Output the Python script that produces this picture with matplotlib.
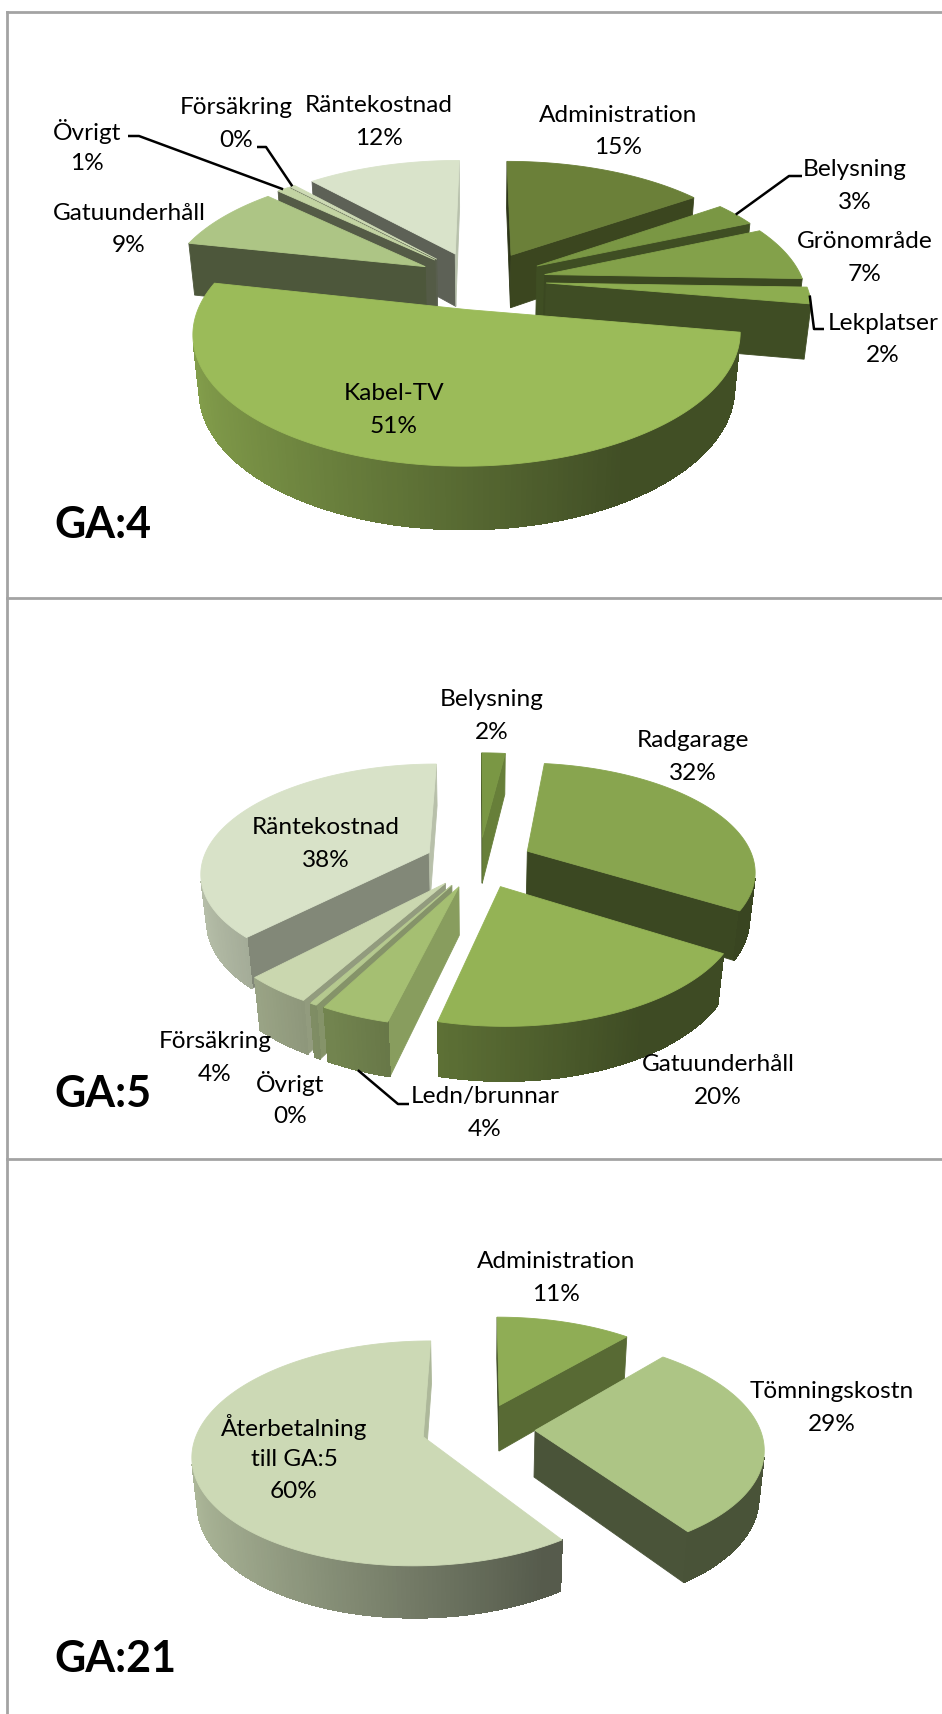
import numpy as np
import matplotlib
matplotlib.use('Agg')
import matplotlib.pyplot as plt
from matplotlib.colors import to_rgb
from matplotlib.patches import Polygon

# GA:4
GA4_NAMES = ['Administration', 'Belysning', 'Grönområde', 'Lekplatser', 'Kabel-TV',
             'Gatuunderhåll', 'Övrigt', 'Försäkring', 'Räntekostnad']
GA4_VALUES = [15.3, 3.2, 7.2, 2.2, 51, 8.8, 0.9, 0.4, 11.6]
GA4_COLORS = ['#6B8039', '#7A9744', '#83A14A', '#8DAD50', '#9BBB59',
              '#ADC585', '#C3D4A3', '#CEDBB5', '#D9E3CA']

# GA:5
GA5_NAMES = ['Belysning', 'Radgarage', 'Gatuunderhåll', 'Ledn/brunnar', 'Övrigt',
             'Försäkring', 'Räntekostnad']
GA5_VALUES = [2, 32, 20, 4, 0.4, 4, 38]
GA5_COLORS = ['#7A9744', '#88A54F', '#94B355', '#A5BF72', '#B5C98F', '#CAD7AF', '#D8E2C8']

# GA:21
GA21_NAMES = ['Administration', 'Tömningskostn', 'Återbetalning\ntill GA:5']
GA21_VALUES = [11.4, 29, 59.6]
GA21_COLORS = ['#8FAD55', '#ADC585', '#CCD9B5']

# label centres in pixels: (x, y of first line)
GA4_LABELS = [(618, 115), (855, 170), (865, 242), (883, 323), (394, 394),
              (129, 213), (87, 131), (236, 108), (379, 106)]
GA5_LABELS = [(492, 700), (693, 741), (718, 1065), (485, 1097), (290, 1084),
              (215, 1042), (326, 828)]
GA21_LABELS = [(556, 1262), (832, 1392), (294, 1427)]

# sideways correction of single slices, in pie radii
GA4_NUDGE = [0, 0, 0, 0, -0.012, -0.012, -0.02, -0.02, -0.025]
GA5_NUDGE = [0, 0, 0, 0, 0, 0, 0]
GA21_NUDGE = [0, 0, -0.025]

# leader lines: slice index -> label side points, depth of the end point on the rim
GA4_LEADERS = {1: ([(802, 177), (789, 177)], 0), 3: ([(824, 330), (814, 330)], 0),
               6: ([(128, 137), (139, 137)], 0), 7: ([(257, 148), (266, 148)], 0)}
GA5_LEADERS = {3: ([(409, 1105), (398, 1105)], 1)}

LINE_GAP = 32.5
FONT = 'Lato'
BORDER = '#A3A3A3'
FACE_NX = [-1, 0, 0.59, 0.77, 1]
FACE_SHADE = [0.42, 0.45, 0.55, 0.62, 0.85]


def project(x, y, z, g):
    se, ce = np.sin(np.radians(g['elev'])), np.cos(np.radians(g['elev']))
    yc = y * se + z * ce
    dc = g['dist'] + y * ce - z * se
    f = g['scale'] * g['dist']
    return g['cx'] + f * x / dc, g['cy'] - f * yc / dc


def shade(color, k):
    return tuple(c * k for c in to_rgb(color))


def area(pts):
    pts = np.array(pts)
    x, y = pts[:, 0], pts[:, 1]
    return 0.5 * np.sum(x * np.roll(y, -1) - y * np.roll(x, -1))


def draw_face(ax, pts, color, zorder, smooth=True):
    ax.add_patch(Polygon(pts, closed=True, fc=color, ec=color, lw=0.6,
                         antialiased=smooth, zorder=zorder))


def draw_pie(ax, values, colors, nudge, g):
    values = np.array(values, dtype=float)
    edges = np.concatenate([[0], np.cumsum(values)]) / values.sum() * 2 * np.pi
    mids = (edges[:-1] + edges[1:]) / 2
    offx = g['explode'] * np.sin(mids) + np.array(nudge)
    offy = g['explode'] * np.cos(mids)
    order = np.argsort(-offy)
    h = g['height']
    for rank, i in enumerate(order):
        z0 = 10 + rank * 0.1
        t = np.linspace(edges[i], edges[i + 1], max(int((edges[i + 1] - edges[i]) * 60), 3))
        rx, ry = np.sin(t) + offx[i], np.cos(t) + offy[i]
        apex = (offx[i], offy[i])

        # the two cut faces
        for ang, end, sign in ((edges[i], (rx[0], ry[0]), -1), (edges[i + 1], (rx[-1], ry[-1]), 1)):
            quad = [project(*apex, 0, g), project(*end, 0, g),
                    project(*end, -h, g), project(*apex, -h, g)]
            if sign * area(quad) > 0:
                nx = np.sin(ang + sign * np.pi / 2)
                draw_face(ax, quad, shade(colors[i], np.interp(nx, FACE_NX, FACE_SHADE)), z0)

        # outer wall, shaded from left to right
        for j in range(len(t) - 1):
            quad = [project(rx[j], ry[j], 0, g), project(rx[j + 1], ry[j + 1], 0, g),
                    project(rx[j + 1], ry[j + 1], -h, g), project(rx[j], ry[j], -h, g)]
            if area(quad) < 0:
                xu = np.sin(t[j])
                k = 0.85 - 0.43 * np.clip((xu + 1) / 1.5, 0, 1)
                draw_face(ax, quad, shade(colors[i], k), z0 + 0.01, smooth=False)

        top = [project(*apex, 0, g)] + [project(a, b, 0, g) for a, b in zip(rx, ry)]
        draw_face(ax, top, colors[i], z0 + 0.02)
    return mids, offx, offy


def draw_labels(ax, names, values, places):
    for name, v, (x, y) in zip(names, values, places):
        lines = name.split('\n') + [f'{v:.0f}%']
        for n, line in enumerate(lines):
            ax.text(x, y + n * LINE_GAP, line, ha='center', va='center', family=FONT,
                    fontsize=17.6, color='black', zorder=30)


def draw_leaders(ax, leaders, pie, g):
    mids, offx, offy = pie
    for i, (pts, low) in leaders.items():
        end = project(np.sin(mids[i]) + offx[i], np.cos(mids[i]) + offy[i], -low * g['height'], g)
        xs, ys = zip(*(pts + [end]))
        ax.plot(xs, ys, color='black', lw=1.8, zorder=25, solid_capstyle='butt')


fig = plt.figure(figsize=(9.42, 17.15), dpi=100)
ax = fig.add_axes([0, 0, 1, 1])
ax.set_xlim(0, 942)
ax.set_ylim(1715, 0)
ax.axis('off')

ax.plot([7, 7], [13, 1715], color=BORDER, lw=2, zorder=1)
for y in (13, 599, 1160):
    ax.plot([7, 942], [y, y], color=BORDER, lw=2, zorder=1)

G4 = dict(cx=483, cy=281, scale=258, elev=27.2, dist=5.15, height=0.24, explode=0.245)
G5 = dict(cx=479, cy=863, scale=227, elev=28.0, dist=5.2, height=0.24, explode=0.24)
G21 = dict(cx=481, cy=1430, scale=225, elev=28.6, dist=6.0, height=0.24, explode=0.24)

pie4 = draw_pie(ax, GA4_VALUES, GA4_COLORS, GA4_NUDGE, G4)
draw_labels(ax, GA4_NAMES, GA4_VALUES, GA4_LABELS)
draw_leaders(ax, GA4_LEADERS, pie4, G4)

pie5 = draw_pie(ax, GA5_VALUES, GA5_COLORS, GA5_NUDGE, G5)
draw_labels(ax, GA5_NAMES, GA5_VALUES, GA5_LABELS)
draw_leaders(ax, GA5_LEADERS, pie5, G5)

draw_pie(ax, GA21_VALUES, GA21_COLORS, GA21_NUDGE, G21)
draw_labels(ax, GA21_NAMES, GA21_VALUES, GA21_LABELS)

for title, y in (('GA:4', 525), ('GA:5', 1094), ('GA:21', 1659)):
    ax.text(54, y, title, ha='left', va='center', family=FONT, fontweight='bold',
            fontsize=31, color='black', zorder=30)

fig.savefig('out.png', dpi=100)
